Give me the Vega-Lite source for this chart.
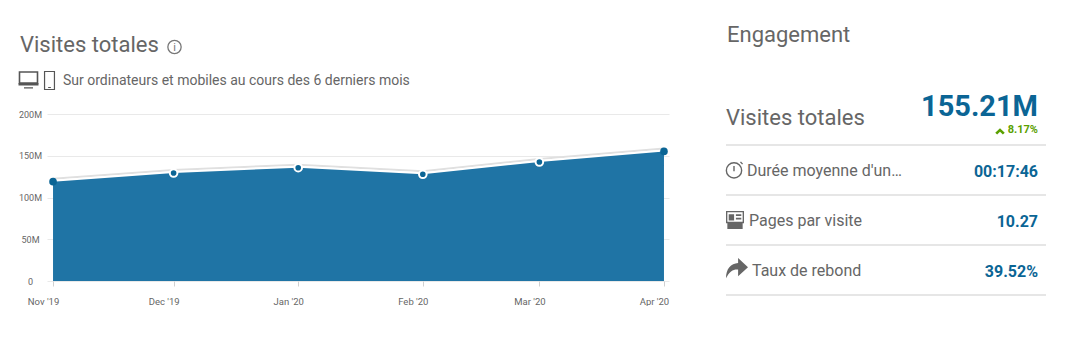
{
"$schema":"https://vega.github.io/schema/vega-lite/v6.json",
"padding":{"left":16,"top":0,"right":0,"bottom":0},
"background":"white",
"config":{"view":{"stroke":null},"font":"Roboto","text":{"font":"Roboto"}},
"datasets":{
 "visits":[
  {"date":"2019-11-01T00:00:00Z","visits":119000000},
  {"date":"2019-12-01T00:00:00Z","visits":129300000},
  {"date":"2020-01-01T00:00:00Z","visits":135700000},
  {"date":"2020-02-01T00:00:00Z","visits":127800000},
  {"date":"2020-03-01T00:00:00Z","visits":142500000},
  {"date":"2020-04-01T00:00:00Z","visits":155210000}],
 "metrics":[
  {"metric":"Visites totales","value":"155.21M","change":"8.17%"},
  {"metric":"Durée moyenne d'un…","value":"00:17:46"},
  {"metric":"Pages par visite","value":"10.27"},
  {"metric":"Taux de rebond","value":"39.52%"}],
 "levels":[{"level":50000000},{"level":100000000}],
 "one":[{"id":1}]
},
"spacing":54,
"hconcat":[
 {"bounds":"flush","spacing":0,"vconcat":[
  {"width":622,"height":114,"data":{"name":"one"},
   "encoding":{
    "x":{"datum":20,"type":"quantitative","scale":{"domain":[47,669],"zero":false,"nice":false},"axis":null},
    "y":{"datum":45,"type":"quantitative","scale":{"domain":[0,114],"range":[0,114],"zero":false,"nice":false},"axis":null}},
   "layer":[
    {"mark":{"type":"text","align":"left","baseline":"middle","fontSize":22,"color":"#666666","text":"Visites totales"}},
    {"mark":{"type":"text","align":"left","baseline":"middle","fontSize":14,"color":"#666666","text":"Sur ordinateurs et mobiles au cours des 6 derniers mois"},
     "encoding":{"x":{"datum":63,"type":"quantitative"},"y":{"datum":81,"type":"quantitative"}}},
    {"mark":{"type":"point","shape":"circle","size":177,"filled":false,"stroke":"#777777","strokeWidth":1.3,"opacity":1},
     "encoding":{"x":{"datum":174.5,"type":"quantitative"},"y":{"datum":47,"type":"quantitative"}}},
    {"mark":{"type":"text","align":"center","baseline":"middle","fontSize":11,"color":"#777777","text":"i"},
     "encoding":{"x":{"datum":174.5,"type":"quantitative"},"y":{"datum":47.5,"type":"quantitative"}}},
    {"mark":{"type":"point","shape":"M-0.9,-0.8H0.9V0.3H-0.9Z","size":400,"filled":false,"stroke":"#555555","strokeWidth":1.6,"opacity":1},
     "encoding":{"x":{"datum":28.5,"type":"quantitative"},"y":{"datum":80,"type":"quantitative"}}},
    {"mark":{"type":"point","shape":"M-1,0.3H1V0.55H-1Z M-0.45,0.72H0.45V0.85H-0.45Z","size":400,"filled":true,"fill":"#555555","stroke":null,"opacity":1},
     "encoding":{"x":{"datum":28.5,"type":"quantitative"},"y":{"datum":80,"type":"quantitative"}}},
    {"mark":{"type":"point","shape":"M-0.55,-1H0.55V1H-0.55Z M-0.15,0.78H0.15","size":324,"filled":false,"stroke":"#555555","strokeWidth":1.2,"opacity":1},
     "encoding":{"x":{"datum":49.5,"type":"quantitative"},"y":{"datum":80.5,"type":"quantitative"}}}
   ]},
  {"width":622,"height":167,
   "encoding":{
    "x":{"field":"date","type":"temporal","title":null,
      "scale":{"type":"utc","domain":[1572436800000,1585807200000]},
      "axis":{"values":[1572566400000,1575158400000,1577836800000,1580515200000,1583020800000,1585699200000],
        "labelExpr":"utcFormat(datum.value,\"%b '%y\")","domain":false,"grid":false,"tickColor":"#d0d0d0","tickSize":5,"labelPadding":15,"labelOffset":-10,"labelFontSize":9.5,"labelColor":"#666666","labelFont":"Roboto","labelBaseline":"middle","labelFlush":false,"labelOverlap":false}},
    "y":{"field":"visits","type":"quantitative","title":null,
      "scale":{"domain":[0,200000000],"nice":false},
      "axis":{"values":[0,50000000,100000000,150000000,200000000],
        "labelExpr":"datum.value==0?'0':(datum.value/1000000)+'M'","domain":false,"ticks":false,"tickSize":0,"grid":true,"gridColor":"#e9e9e9","labelAlign":"center","labelPadding":17,"labelFontSize":9,"labelColor":"#666666","labelFont":"Roboto"}}},
   "layer":[
    {"data":{"name":"visits"},"mark":{"type":"line","color":"#e0e0e0","strokeWidth":2,"yOffset":-3}},
    {"data":{"name":"visits"},"mark":{"type":"line","color":"#ffffff","strokeWidth":2,"yOffset":-1}},
    {"data":{"name":"visits"},"mark":{"type":"area","color":"#1f74a5","opacity":1}},
    {"data":{"name":"levels"},"mark":{"type":"rule","color":"#ffffff","opacity":0.36,"strokeWidth":1},
     "encoding":{"y":{"field":"level","type":"quantitative"},
       "x":{"datum":1572566400000,"type":"temporal"},"x2":{"datum":1585699200000}}},
    {"data":{"name":"visits"},"mark":{"type":"point","shape":"circle","filled":true,"fill":"#0b6595","stroke":"#ffffff","size":58,"opacity":1},
     "encoding":{"strokeWidth":{"condition":{"test":"year(datum.date)==2019&&month(datum.date)==10||month(datum.date)==3","value":0},"value":2}}}
   ]}
 ]},
 {"width":320,"height":296,"data":{"name":"metrics"},
  "resolve":{"scale":{"y":"independent","x":"independent"}},
  "layer":[
   {"data":{"name":"one"},
    "mark":{"type":"text","align":"left","baseline":"middle","fontSize":22,"color":"#666666","text":"Engagement"},
    "encoding":{"x":{"datum":727,"type":"quantitative","scale":{"domain":[726,1046],"zero":false,"nice":false},"axis":null},
      "y":{"datum":35,"type":"quantitative","scale":{"domain":[0,296],"range":[0,296],"zero":false,"nice":false},"axis":null}}},
   {"mark":{"type":"rule","color":"#e6e6e6","strokeWidth":2},
    "encoding":{
     "y":{"field":"metric","type":"nominal","bandPosition":1,"sort":null,"scale":{"type":"band","range":[95,295],"paddingInner":0,"paddingOuter":0},"axis":null},
     "x":{"datum":726,"type":"quantitative","scale":{"domain":[726,1046],"zero":false,"nice":false},"axis":null},
     "x2":{"datum":1046}}},
   {"transform":[{"filter":"datum.metric=='Visites totales'"}],
    "mark":{"type":"text","align":"left","baseline":"middle","color":"#666666","fontSize":22},
    "encoding":{"text":{"field":"metric"},
     "x":{"datum":726,"type":"quantitative","scale":{"domain":[726,1046],"zero":false,"nice":false},"axis":null},
     "y":{"datum":118,"type":"quantitative","scale":{"domain":[0,296],"range":[0,296],"zero":false,"nice":false},"axis":null}}},
   {"transform":[{"filter":"datum.metric=='Durée moyenne d\\'un…'"}],
    "mark":{"type":"text","align":"left","baseline":"middle","color":"#666666","fontSize":16},
    "encoding":{"text":{"field":"metric"},
     "x":{"datum":747,"type":"quantitative","scale":{"domain":[726,1046],"zero":false,"nice":false},"axis":null},
     "y":{"datum":171,"type":"quantitative","scale":{"domain":[0,296],"range":[0,296],"zero":false,"nice":false},"axis":null}}},
   {"transform":[{"filter":"datum.metric=='Pages par visite'"}],
    "mark":{"type":"text","align":"left","baseline":"middle","color":"#666666","fontSize":16},
    "encoding":{"text":{"field":"metric"},
     "x":{"datum":749,"type":"quantitative","scale":{"domain":[726,1046],"zero":false,"nice":false},"axis":null},
     "y":{"datum":221,"type":"quantitative","scale":{"domain":[0,296],"range":[0,296],"zero":false,"nice":false},"axis":null}}},
   {"transform":[{"filter":"datum.metric=='Taux de rebond'"}],
    "mark":{"type":"text","align":"left","baseline":"middle","color":"#666666","fontSize":16},
    "encoding":{"text":{"field":"metric"},
     "x":{"datum":752,"type":"quantitative","scale":{"domain":[726,1046],"zero":false,"nice":false},"axis":null},
     "y":{"datum":271,"type":"quantitative","scale":{"domain":[0,296],"range":[0,296],"zero":false,"nice":false},"axis":null}}},
   {"transform":[{"filter":"datum.change"}],
    "mark":{"type":"text","align":"right","baseline":"middle","color":"#0b6595","fontWeight":"bold","fontSize":29},
    "encoding":{"text":{"field":"value"},
     "x":{"datum":1038,"type":"quantitative","scale":{"domain":[726,1046],"zero":false,"nice":false},"axis":null},
     "y":{"datum":107,"type":"quantitative","scale":{"domain":[0,296],"range":[0,296],"zero":false,"nice":false},"axis":null}}},
   {"transform":[{"filter":"!datum.change"}],
    "mark":{"type":"text","align":"right","baseline":"middle","color":"#0b6595","fontWeight":"bold","fontSize":16},
    "encoding":{"text":{"field":"value"},
     "x":{"datum":1038,"type":"quantitative","scale":{"domain":[726,1046],"zero":false,"nice":false},"axis":null},
     "y":{"field":"metric","type":"nominal","sort":null,"scale":{"type":"band","range":[147,297],"paddingInner":0,"paddingOuter":0},"axis":null}}},
   {"transform":[{"filter":"datum.change"}],
    "mark":{"type":"text","align":"right","baseline":"middle","color":"#5aa000","fontWeight":"bold","fontSize":11},
    "encoding":{"text":{"field":"change"},
     "x":{"datum":1038,"type":"quantitative","scale":{"domain":[726,1046],"zero":false,"nice":false},"axis":null},
     "y":{"datum":130,"type":"quantitative","scale":{"domain":[0,296],"range":[0,296],"zero":false,"nice":false},"axis":null}}},
   {"data":{"name":"one"},
    "mark":{"type":"point","shape":"M-1,0.5L0,-0.5L1,0.5L0.6,0.85L0,0.25L-0.6,0.85Z","size":90,"filled":true,"fill":"#5aa000","stroke":null,"opacity":1},
    "encoding":{"x":{"datum":1000,"type":"quantitative","scale":{"domain":[726,1046],"zero":false,"nice":false},"axis":null},
     "y":{"datum":130.5,"type":"quantitative","scale":{"domain":[0,296],"range":[0,296],"zero":false,"nice":false},"axis":null}}},
   {"data":{"name":"one"},
    "mark":{"type":"point","shape":"M0,-0.75A0.85,0.85 0 1 0 0.001,-0.75 M0,-0.4V0.2 M0.72,-0.85L0.95,-0.6","size":324,"filled":false,"stroke":"#666666","strokeWidth":1.4,"opacity":1},
    "encoding":{"x":{"datum":734,"type":"quantitative","scale":{"domain":[726,1046],"zero":false,"nice":false},"axis":null},
     "y":{"datum":169.5,"type":"quantitative","scale":{"domain":[0,296],"range":[0,296],"zero":false,"nice":false},"axis":null}}},
   {"data":{"name":"one"},
    "mark":{"type":"point","shape":"M-1,-1H1V0.35H0.85V1H-0.85V0.35H-1Z M-0.85,-0.85V0.2H0.85V-0.85Z M-0.7,-0.65H-0.1V0.05H-0.7Z M0.1,-0.65H0.7V-0.45H0.1Z M0.1,-0.25H0.7V-0.05H0.1Z M-0.65,0.45H0.65V0.6H-0.65Z","size":324,"filled":true,"fill":"#666666","stroke":null,"opacity":1},
    "encoding":{"x":{"datum":735,"type":"quantitative","scale":{"domain":[726,1046],"zero":false,"nice":false},"axis":null},
     "y":{"datum":220,"type":"quantitative","scale":{"domain":[0,296],"range":[0,296],"zero":false,"nice":false},"axis":null}}},
   {"data":{"name":"one"},
    "mark":{"type":"point","shape":"M1,-0.15L0.1,-1V-0.55C-0.55,-0.5 -1,-0.05 -1,0.85C-0.7,0.2 -0.3,0 0.1,0.05V0.65Z","size":484,"filled":true,"fill":"#666666","stroke":null,"opacity":1},
    "encoding":{"x":{"datum":737,"type":"quantitative","scale":{"domain":[726,1046],"zero":false,"nice":false},"axis":null},
     "y":{"datum":269,"type":"quantitative","scale":{"domain":[0,296],"range":[0,296],"zero":false,"nice":false},"axis":null}}}
  ]}
]
}
